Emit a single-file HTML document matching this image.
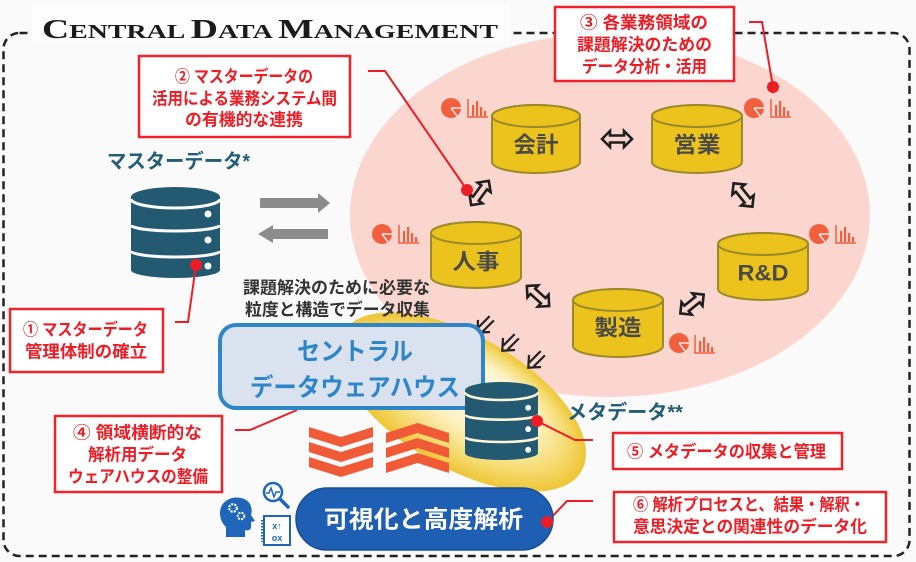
<!DOCTYPE html>
<html><head><meta charset="utf-8">
<style>
html,body{margin:0;padding:0;background:#fafafa;}
svg{display:block}
.jp{font-family:"Liberation Sans","Noto Sans CJK JP",sans-serif;font-weight:bold}
</style></head>
<body>
<svg width="916" height="562" viewBox="0 0 916 562" xmlns="http://www.w3.org/2000/svg">
<defs>
<radialGradient id="yg" cx="0.5" cy="0.5" r="0.5" fx="0.57" fy="0.32">
<stop offset="0" stop-color="#fffef6"/>
<stop offset="0.5" stop-color="#fcf1c0"/>
<stop offset="0.8" stop-color="#f5da6e"/>
<stop offset="1" stop-color="#eec536"/>
</radialGradient>
</defs>
<rect x="0" y="0" width="916" height="562" fill="#fafafa"/>

<!-- pink ellipse -->
<ellipse cx="610" cy="215" rx="260" ry="182" fill="#fbd6cf"/>
<!-- yellow glow -->
<ellipse cx="462" cy="402" rx="138" ry="66" transform="rotate(30 462 402)" fill="url(#yg)"/>

<!-- dashed border -->
<rect x="3.5" y="33" width="906" height="523" rx="16" fill="none" stroke="#222" stroke-width="2.5" stroke-dasharray="8 5"/>

<!-- title -->
<rect x="32" y="5" width="478" height="37" fill="#fdfdfd"/>
<text x="42" y="38" textLength="456" lengthAdjust="spacingAndGlyphs" font-family="Liberation Serif, serif" font-weight="bold" fill="#1b1b1b"><tspan font-size="27">C</tspan><tspan font-size="20">ENTRAL </tspan><tspan font-size="27">D</tspan><tspan font-size="20">ATA </tspan><tspan font-size="27">M</tspan><tspan font-size="20">ANAGEMENT</tspan></text>

<!-- gray arrows -->
<path d="M260 198 H318 V193 L330 203 L318 213 V208 H260 Z" fill="#8c8c8c"/>
<path d="M328 229 H273 V225 L258 234 L273 243 V239 H328 Z" fill="#8c8c8c"/>

<!-- master DB icon -->
<g transform="translate(131,187)">
<path d="M0 10 V83 A44.5 8 0 0 0 89 83 V10 A44.5 10 0 0 0 0 10 Z" fill="#235a72"/>
<path d="M0 12 A44.5 9 0 0 0 89 12 M0 38 A44.5 6 0 0 0 89 38 M0 64 A44.5 6 0 0 0 89 64" fill="none" stroke="#fafafa" stroke-width="3"/>
<circle cx="77" cy="27" r="3.5" fill="#fff"/><circle cx="77" cy="53" r="3.5" fill="#fff"/><circle cx="77" cy="79" r="3.5" fill="#fff"/>
</g>
<text class="jp" x="178.5" y="162" font-size="20" fill="#245e74" text-anchor="middle" dominant-baseline="central" textLength="143" lengthAdjust="spacingAndGlyphs">マスターデータ*</text>

<!-- cylinders -->
<g fill="#ecc31c" stroke="#9c8a2a" stroke-width="2">
<path d="M492 116 V162 A44 11 0 0 0 580 162 V116 A44 11 0 0 0 492 116 Z"/><ellipse cx="536" cy="116" rx="44" ry="11"/>
<path d="M652 116 V162 A45 11 0 0 0 742 162 V116 A45 11 0 0 0 652 116 Z"/><ellipse cx="697" cy="116" rx="45" ry="11"/>
<path d="M431 233 V277 A45 11 0 0 0 521 277 V233 A45 11 0 0 0 431 233 Z"/><ellipse cx="476" cy="233" rx="45" ry="11"/>
<path d="M718 244 V289 A45 11 0 0 0 808 289 V244 A45 11 0 0 0 718 244 Z"/><ellipse cx="763" cy="244" rx="45" ry="11"/>
<path d="M573 300 V346 A45 11 0 0 0 663 346 V300 A45 11 0 0 0 573 300 Z"/><ellipse cx="618" cy="300" rx="45" ry="11"/>
</g>
<g class="jp" font-size="22" fill="#4a4a48" text-anchor="middle" dominant-baseline="central">
<text x="536" y="145" textLength="45" lengthAdjust="spacingAndGlyphs">会計</text>
<text x="697" y="145" textLength="47" lengthAdjust="spacingAndGlyphs">営業</text>
<text x="476" y="262" textLength="47" lengthAdjust="spacingAndGlyphs">人事</text>
<text x="763" y="273" textLength="51" lengthAdjust="spacingAndGlyphs">R&amp;D</text>
<text x="618" y="328" textLength="47" lengthAdjust="spacingAndGlyphs">製造</text>
</g>

<!-- double arrows -->
<g fill="none" stroke="#1e1e1e" stroke-width="2.6" stroke-linejoin="miter">
<path transform="translate(617,139)" d="M-15 0 L-7 -8 L-7 -3.5 L7 -3.5 L7 -8 L15 0 L7 8 L7 3.5 L-7 3.5 L-7 8 Z"/>
<path transform="translate(480,193) rotate(-54)" d="M-15 0 L-7 -8 L-7 -3.5 L7 -3.5 L7 -8 L15 0 L7 8 L7 3.5 L-7 3.5 L-7 8 Z"/>
<path transform="translate(743,195) rotate(51)" d="M-15 0 L-7 -8 L-7 -3.5 L7 -3.5 L7 -8 L15 0 L7 8 L7 3.5 L-7 3.5 L-7 8 Z"/>
<path transform="translate(538,296) rotate(42)" d="M-15 0 L-7 -8 L-7 -3.5 L7 -3.5 L7 -8 L15 0 L7 8 L7 3.5 L-7 3.5 L-7 8 Z"/>
<path transform="translate(692,304) rotate(-39)" d="M-15 0 L-7 -8 L-7 -3.5 L7 -3.5 L7 -8 L15 0 L7 8 L7 3.5 L-7 3.5 L-7 8 Z"/>
</g>
<!-- down-left arrows -->
<g fill="none" stroke="#222" stroke-width="2.2">
<path transform="translate(484,326) rotate(135)" d="M-11 -3 H5 M-11 3 H5 M0 -8.5 L9.5 0 L0 8.5"/>
<path transform="translate(509,344) rotate(135)" d="M-11 -3 H5 M-11 3 H5 M0 -8.5 L9.5 0 L0 8.5"/>
<path transform="translate(535,361) rotate(135)" d="M-11 -3 H5 M-11 3 H5 M0 -8.5 L9.5 0 L0 8.5"/>
</g>

<!-- chart icons -->
<g fill="#f15f3e">
<circle cx="451" cy="108" r="10"/><circle cx="754" cy="108" r="10"/><circle cx="382" cy="234" r="10"/><circle cx="819" cy="234" r="10"/><circle cx="679" cy="343" r="10"/>
</g>
<g stroke="#ffffff" stroke-width="1.3">
<path d="M451 108 H461 M451 108 L457 116"/><path d="M754 108 H764 M754 108 L760 116"/><path d="M382 234 H392 M382 234 L388 242"/><path d="M819 234 H829 M819 234 L825 242"/><path d="M679 343 H689 M679 343 L685 351"/>
</g>
<g fill="#f15f3e">
<path d="M468 99 V117 H488" fill="none" stroke="#f15f3e" stroke-width="1.5"/>
<rect x="472" y="105" width="2.2" height="11"/><rect x="476" y="101" width="2.2" height="15"/><rect x="480" y="107" width="2.2" height="9"/><rect x="484" y="111" width="2.2" height="5"/>
<path d="M771 99 V117 H791" fill="none" stroke="#f15f3e" stroke-width="1.5"/>
<rect x="775" y="105" width="2.2" height="11"/><rect x="779" y="101" width="2.2" height="15"/><rect x="783" y="107" width="2.2" height="9"/><rect x="787" y="111" width="2.2" height="5"/>
<path d="M399 225 V243 H419" fill="none" stroke="#f15f3e" stroke-width="1.5"/>
<rect x="403" y="231" width="2.2" height="11"/><rect x="407" y="227" width="2.2" height="15"/><rect x="411" y="233" width="2.2" height="9"/><rect x="415" y="237" width="2.2" height="5"/>
<path d="M836 225 V243 H856" fill="none" stroke="#f15f3e" stroke-width="1.5"/>
<rect x="840" y="231" width="2.2" height="11"/><rect x="844" y="227" width="2.2" height="15"/><rect x="848" y="233" width="2.2" height="9"/><rect x="852" y="237" width="2.2" height="5"/>
<path d="M695 335 V353 H715" fill="none" stroke="#f15f3e" stroke-width="1.5"/>
<rect x="699" y="341" width="2.2" height="11"/><rect x="703" y="337" width="2.2" height="15"/><rect x="707" y="343" width="2.2" height="9"/><rect x="711" y="347" width="2.2" height="5"/>
</g>

<!-- collection text -->
<g class="jp" font-size="17" fill="#333" text-anchor="middle" dominant-baseline="central">
<text x="336.5" y="288" textLength="187" lengthAdjust="spacingAndGlyphs">課題解決のために必要な</text>
<text x="337.5" y="310" textLength="185" lengthAdjust="spacingAndGlyphs">粒度と構造でデータ収集</text>
</g>

<!-- red connector for ④ (behind box) -->
<path d="M235 430 H250 L297 410" fill="none" stroke="#ee1c25" stroke-width="2"/>

<!-- central warehouse -->
<rect x="220" y="325" width="263" height="83" rx="16" fill="#dbe2ef" stroke="#2e86c8" stroke-width="4"/>
<g class="jp" font-size="25" fill="#2e86c8" text-anchor="middle" dominant-baseline="central">
<text x="355" y="352" textLength="116" lengthAdjust="spacingAndGlyphs">セントラル</text>
<text x="355" y="388" textLength="210" lengthAdjust="spacingAndGlyphs">データウェアハウス</text>
</g>

<!-- chevrons -->
<g fill="#f15a37">
<polygon points="309,427 341,437 373,427 373,437 341,447 309,437"/>
<polygon points="309,442 341,452 373,442 373,452 341,462 309,452"/>
<polygon points="309,457 341,467 373,457 373,467 341,477 309,467"/>
<polygon points="386,433 417.5,423 449,433 449,443 417.5,433 386,443"/>
<polygon points="386,448 417.5,438 449,448 449,458 417.5,448 386,458"/>
<polygon points="386,463 417.5,453 449,463 449,473 417.5,463 386,473"/>
</g>

<!-- meta DB icon -->
<g transform="translate(465,382) scale(0.82,0.857)">
<path d="M0 10 V83 A44.5 8 0 0 0 89 83 V10 A44.5 10 0 0 0 0 10 Z" fill="#235a72"/>
<path d="M0 12 A44.5 9 0 0 0 89 12 M0 38 A44.5 6 0 0 0 89 38 M0 64 A44.5 6 0 0 0 89 64" fill="none" stroke="#fdf6d8" stroke-width="3"/>
<circle cx="77" cy="30" r="3.5" fill="#fff"/><circle cx="77" cy="55" r="3.5" fill="#fff"/><circle cx="77" cy="79" r="3.5" fill="#fff"/>
</g>
<text class="jp" x="625" y="413" font-size="20" fill="#245e74" text-anchor="middle" dominant-baseline="central" textLength="116" lengthAdjust="spacingAndGlyphs">メタデータ**</text>

<!-- red connectors -->
<g fill="none" stroke="#ee1c25" stroke-width="2">
<path d="M368 71 H385 L467 190"/>
<path d="M749 22 H762 L773 87"/>
<path d="M175 322 H188 L196 265"/>
<path d="M537 421 L575 440 H593"/>
<path d="M547 522 L567 501 H593"/>
</g>
<g fill="#ee1c25">
<circle cx="467" cy="190" r="6"/><circle cx="773" cy="87" r="6"/><circle cx="196" cy="265" r="6"/><circle cx="537" cy="421" r="6"/>
</g>

<!-- callout boxes -->
<g fill="#fff" stroke="#f0232a" stroke-width="2.5">
<rect x="10" y="309" width="153" height="63"/>
<rect x="139" y="56" width="211" height="81"/>
<rect x="555" y="7" width="179" height="74"/>
<rect x="55" y="416" width="167" height="76"/>
<rect x="613" y="433" width="229" height="36"/>
<rect x="614" y="492" width="272" height="50"/>
</g>
<g class="jp" font-size="17" fill="#ee1c25" text-anchor="middle" dominant-baseline="central">
<text x="85.5" y="330" textLength="125" lengthAdjust="spacingAndGlyphs">① マスターデータ</text>
<text x="86" y="352" textLength="122" lengthAdjust="spacingAndGlyphs">管理体制の確立</text>
<text x="244" y="77" textLength="138" lengthAdjust="spacingAndGlyphs">② マスターデータの</text>
<text x="244.5" y="99" textLength="185" lengthAdjust="spacingAndGlyphs">活用による業務システム間</text>
<text x="244" y="120" textLength="118" lengthAdjust="spacingAndGlyphs">の有機的な連携</text>
<text x="644" y="23" textLength="128" lengthAdjust="spacingAndGlyphs">③ 各業務領域の</text>
<text x="644.5" y="45" textLength="135" lengthAdjust="spacingAndGlyphs">課題解決のための</text>
<text x="644.5" y="67" textLength="125" lengthAdjust="spacingAndGlyphs">データ分析・活用</text>
<text x="137.5" y="433" textLength="129" lengthAdjust="spacingAndGlyphs">④ 領域横断的な</text>
<text x="137.5" y="455" textLength="99" lengthAdjust="spacingAndGlyphs">解析用データ</text>
<text x="138" y="477" textLength="140" lengthAdjust="spacingAndGlyphs">ウェアハウスの整備</text>
<text x="726.5" y="452" textLength="199" lengthAdjust="spacingAndGlyphs">⑤ メタデータの収集と管理</text>
<text x="749" y="505" textLength="232" lengthAdjust="spacingAndGlyphs">⑥ 解析プロセスと、結果・解釈・</text>
<text x="750" y="527" textLength="234" lengthAdjust="spacingAndGlyphs">意思決定との関連性のデータ化</text>
</g>

<!-- pill -->
<rect x="296" y="488" width="257" height="62" rx="31" fill="#1f5fb3" stroke="#1a4f95" stroke-width="1.5"/>
<text class="jp" x="423.5" y="520" font-size="24" fill="#fff" text-anchor="middle" dominant-baseline="central" textLength="199" lengthAdjust="spacingAndGlyphs">可視化と高度解析</text>
<circle cx="547" cy="522" r="6" fill="#ee1c25"/>

<!-- small blue icons -->
<path d="M226 537 V527 C218 520 218 506 226 501 C232 496 245 496 250 504 C252 508 252 512 251 515 L255 521 L251 522 V527 C251 530 248 531 245 530 V537 Z" fill="#1f66b9"/>
<circle cx="233" cy="508" r="3.8" fill="none" stroke="#fff" stroke-width="2.2" stroke-dasharray="2 1.2"/>
<circle cx="241" cy="516" r="3.3" fill="none" stroke="#fff" stroke-width="2" stroke-dasharray="2 1.2"/>
<circle cx="273" cy="492" r="9" fill="#fff" stroke="#1f66b9" stroke-width="2.5"/>
<path d="M266 493 H269 L271 488 L274 497 L276 492 H280" fill="none" stroke="#1f66b9" stroke-width="1.5"/>
<path d="M280 499 L288 507" stroke="#1f66b9" stroke-width="3.5" stroke-linecap="round"/>
<rect x="264" y="516" width="26" height="29" fill="#fff" stroke="#1f66b9" stroke-width="2"/>
<path d="M262 520 V542" stroke="#1f66b9" stroke-width="2" stroke-dasharray="1.5 1.5"/>
<text x="277" y="526" font-family="Liberation Sans, sans-serif" font-weight="bold" font-size="9" fill="#1f66b9" text-anchor="middle" dominant-baseline="central">x↑</text>
<text x="277" y="538" font-family="Liberation Sans, sans-serif" font-weight="bold" font-size="9" fill="#1f66b9" text-anchor="middle" dominant-baseline="central">ox</text>
</svg>
</body></html>
